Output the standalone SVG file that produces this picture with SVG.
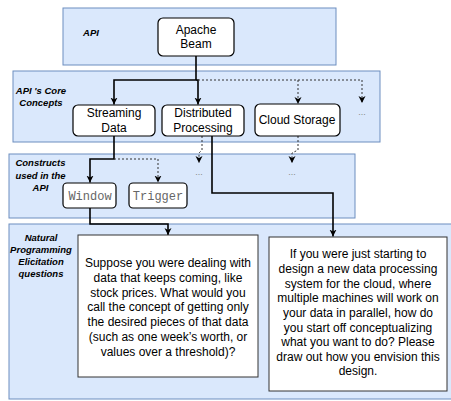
<svg xmlns="http://www.w3.org/2000/svg" width="451" height="401" viewBox="0 0 451 401">
<defs>
<style>
.panel{fill:#dae8fc;stroke:#6c8ebf;stroke-width:1}
.node{fill:#ffffff;stroke:#000000;stroke-width:1.2}
.q{fill:#ffffff;stroke:#333333;stroke-width:1}
.t{font-family:"Liberation Sans",Arial,sans-serif;font-size:12px;fill:#000;text-anchor:middle}
.m{font-family:"Liberation Mono","Courier New",monospace;font-size:12px;fill:#666;text-anchor:middle}
.lbl{font-family:"Liberation Sans",Arial,sans-serif;font-size:9.5px;font-weight:bold;font-style:italic;fill:#000;text-anchor:middle}
.dots{font-family:"Liberation Sans",Arial,sans-serif;font-size:9px;fill:#888;text-anchor:middle}
.solid{fill:none;stroke:#000;stroke-width:1.6}
.dash{fill:none;stroke:#333;stroke-width:1;stroke-dasharray:2 2}
</style>
<marker id="arr" markerWidth="8" markerHeight="8" viewBox="0 0 8 8" refX="7" refY="4" orient="auto" markerUnits="userSpaceOnUse">
<path d="M0,0.5 L7,4 L0,7.5 L2,4 Z" fill="#000"/>
</marker>
</defs>

<g id="panel-api"><rect class="panel" x="63" y="8" width="273" height="57"/><text class="lbl" x="91" y="36">API</text></g>
<g id="panel-core"><rect class="panel" x="13" y="71" width="367" height="71"/><text class="lbl" x="41" y="94">API 's Core</text><text class="lbl" x="41" y="106">Concepts</text></g>
<g id="panel-constructs"><rect class="panel" x="9" y="154" width="346" height="64"/><text class="lbl" x="40.5" y="166">Constructs</text><text class="lbl" x="40.5" y="179">used in the</text><text class="lbl" x="40.5" y="191">API</text></g>
<g id="panel-questions"><rect class="panel" x="9" y="224" width="450" height="175"/><text class="lbl" x="41" y="241">Natural</text><text class="lbl" x="41" y="253">Programming</text><text class="lbl" x="41" y="265">Elicitation</text><text class="lbl" x="41" y="277">questions</text></g>

<g id="connectors">
<path class="solid" d="M196,56 V80 H114 V104.5" marker-end="url(#arr)"/>
<path class="solid" d="M196,80 H198 V104.5" marker-end="url(#arr)"/>
<path class="dash" d="M198,80 H362 V103" marker-end="url(#arr)"/>
<path class="dash" d="M298,80 V104" marker-end="url(#arr)"/>
<path class="solid" d="M114,136 V159 H90 V182.5" marker-end="url(#arr)"/>
<path class="dash" d="M114,159 H158 V182.5" marker-end="url(#arr)"/>
<path class="dash" d="M202,136 V150 L199,153 V163" marker-end="url(#arr)"/>
<path class="solid" d="M212,136 V193 H333 V236.5" marker-end="url(#arr)"/>
<path class="dash" d="M298,136 V150 L292,153 V163" marker-end="url(#arr)"/>
<path class="solid" d="M90,208 V224 H168 V235" marker-end="url(#arr)"/>
</g>

<g id="apache-beam"><rect class="node" x="158" y="18" width="76" height="38" rx="5"/><text class="t" x="196" y="34">Apache</text><text class="t" x="196" y="48">Beam</text></g>
<g id="streaming-data"><rect class="node" x="73" y="105" width="82" height="31" rx="5"/><text class="t" x="114" y="117">Streaming</text><text class="t" x="114" y="132">Data</text></g>
<g id="distributed-processing"><rect class="node" x="162" y="105" width="82" height="31" rx="5"/><text class="t" x="203" y="117">Distributed</text><text class="t" x="203" y="132">Processing</text></g>
<g id="cloud-storage"><rect class="node" x="255" y="104" width="85" height="32" rx="5"/><text class="t" x="297" y="124">Cloud Storage</text></g>
<g id="more-core"><text class="dots" x="362" y="115">...</text></g>
<g id="more-dist"><text class="dots" x="199" y="175">...</text></g>
<g id="more-cloud"><text class="dots" x="292" y="175">...</text></g>
<g id="window"><rect class="node" x="63" y="183" width="53" height="25" rx="4"/><text class="m" x="90" y="200">Window</text></g>
<g id="trigger"><rect class="node" x="129" y="183" width="58" height="25" rx="4"/><text class="m" x="158" y="200">Trigger</text></g>

<g id="question-window"><rect class="q" x="78" y="235" width="180" height="142"/>
<text class="t" x="168" y="267">Suppose you were dealing with</text>
<text class="t" x="168" y="282">data that keeps coming, like</text>
<text class="t" x="168" y="296.5">stock prices. What would you</text>
<text class="t" x="168" y="311">call the concept of getting only</text>
<text class="t" x="168" y="325.5">the desired pieces of that data</text>
<text class="t" x="168" y="340.5">(such as one week’s worth, or</text>
<text class="t" x="168" y="355.5">values over a threshold)?</text>
</g>
<g id="question-distributed"><rect class="q" x="269" y="237" width="178" height="154"/>
<text class="t" x="358" y="258">If you were just starting to</text>
<text class="t" x="358" y="273">design a new data processing</text>
<text class="t" x="358" y="287.5">system for the cloud, where</text>
<text class="t" x="358" y="302">multiple machines will work on</text>
<text class="t" x="358" y="317">your data in parallel, how do</text>
<text class="t" x="358" y="331.5">you start off conceptualizing</text>
<text class="t" x="358" y="346">what you want to do? Please</text>
<text class="t" x="358" y="361">draw out how you envision this</text>
<text class="t" x="358" y="375">design.</text>
</g>
</svg>
